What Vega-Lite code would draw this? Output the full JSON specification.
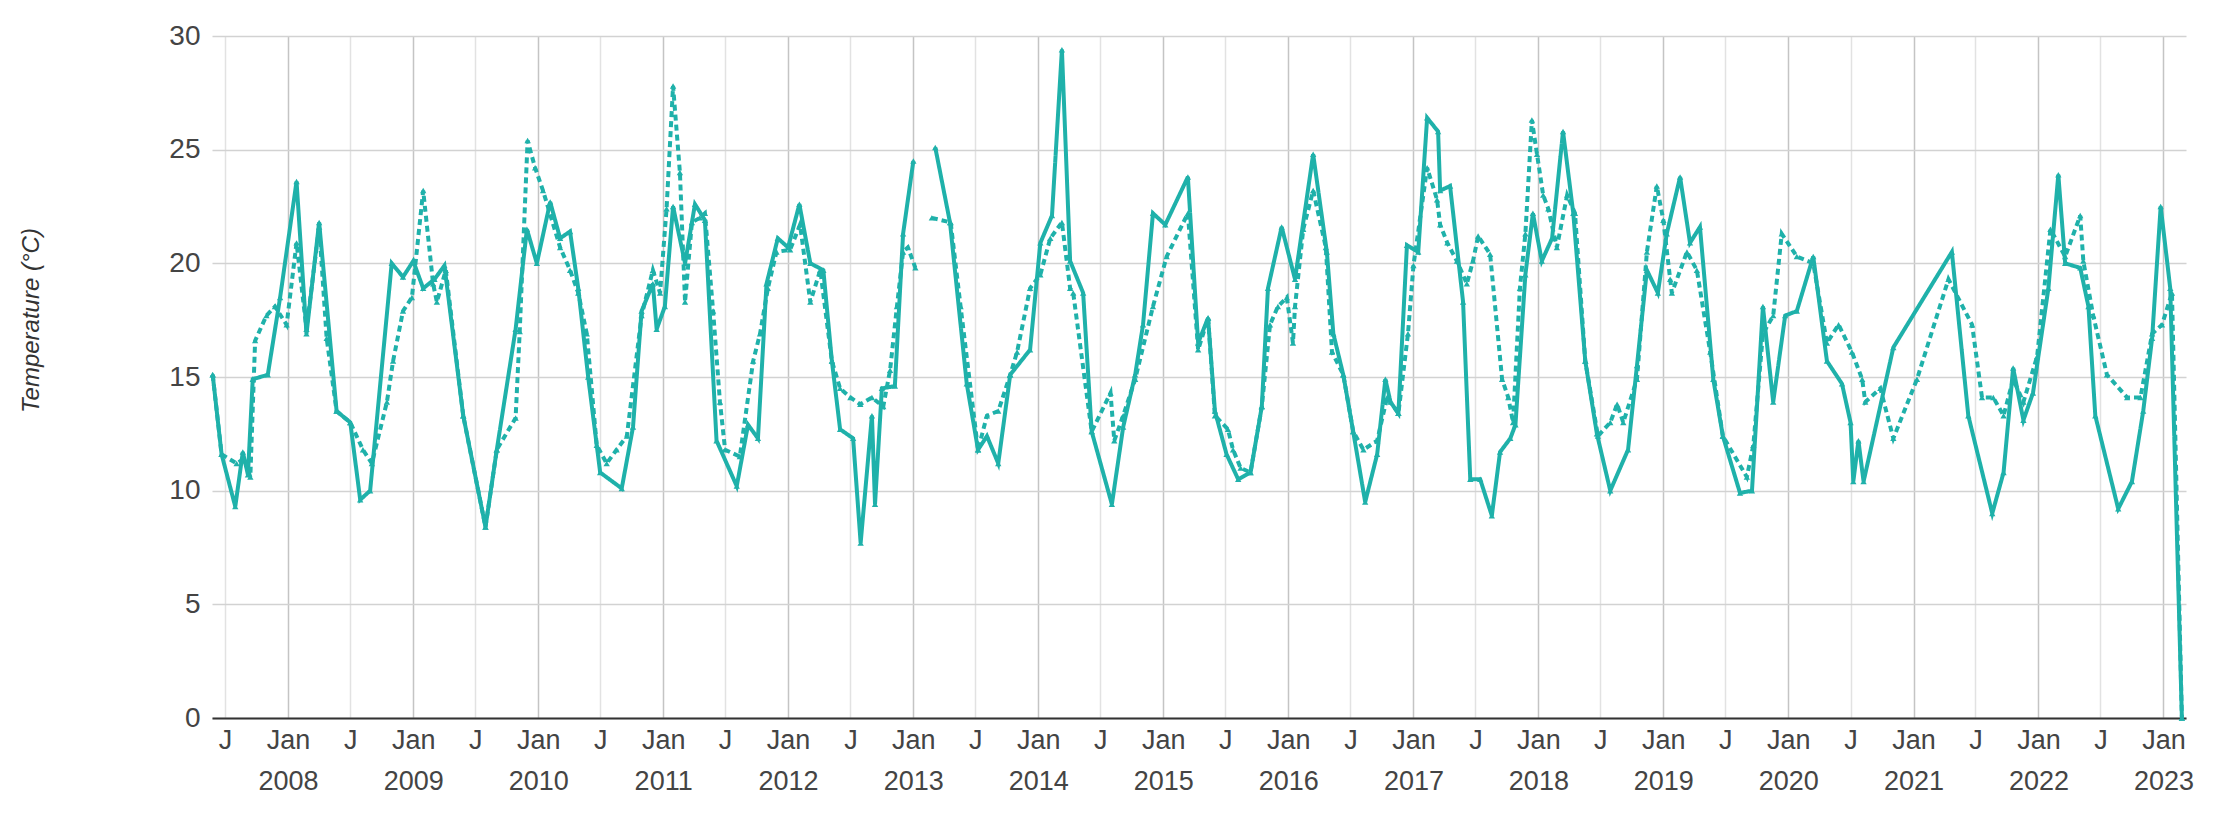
{
  "$schema": "https://vega.github.io/schema/vega-lite/v6.json",
  "autosize": "none",
  "width": 1974,
  "height": 682,
  "padding": {"left": 212, "top": 36, "right": 40, "bottom": 100},
  "background": "white",
  "config": {"view": {"stroke": null}},
  "data": {"values": [
    {"d":"2007-05-26","s":"a","t":15.1},{"d":"2007-06-21","s":"a","t":11.6},{"d":"2007-07-31","s":"a","t":9.3},{"d":"2007-08-22","s":"a","t":11.7},{"d":"2007-09-06","s":"a","t":10.7},{"d":"2007-09-20","s":"a","t":14.9},{"d":"2007-11-03","s":"a","t":15.1},{"d":"2007-12-09","s":"a","t":18.5},
    {"d":"2008-01-26","s":"a","t":23.6},{"d":"2008-02-24","s":"a","t":16.9},{"d":"2008-04-01","s":"a","t":21.8},{"d":"2008-05-22","s":"a","t":13.5},{"d":"2008-07-01","s":"a","t":13.0},{"d":"2008-07-30","s":"a","t":9.6},{"d":"2008-08-28","s":"a","t":10.0},{"d":"2008-10-30","s":"a","t":20.0},{"d":"2008-12-02","s":"a","t":19.4},
    {"d":"2009-01-01","s":"a","t":20.1},{"d":"2009-01-30","s":"a","t":18.9},{"d":"2009-03-04","s":"a","t":19.3},{"d":"2009-04-02","s":"a","t":19.9},{"d":"2009-05-27","s":"a","t":13.3},{"d":"2009-07-31","s":"a","t":8.4},{"d":"2009-09-02","s":"a","t":11.8},{"d":"2009-10-27","s":"a","t":17.1},{"d":"2009-11-29","s":"a","t":21.5},{"d":"2009-12-28","s":"a","t":20.0},
    {"d":"2010-02-05","s":"a","t":22.7},{"d":"2010-03-06","s":"a","t":21.1},{"d":"2010-04-04","s":"a","t":21.4},{"d":"2010-04-28","s":"a","t":18.9},{"d":"2010-05-27","s":"a","t":15.0},{"d":"2010-07-01","s":"a","t":10.8},{"d":"2010-09-02","s":"a","t":10.1},{"d":"2010-10-05","s":"a","t":12.8},{"d":"2010-10-30","s":"a","t":17.9},{"d":"2010-12-02","s":"a","t":19.1},{"d":"2010-12-13","s":"a","t":17.1},
    {"d":"2011-01-06","s":"a","t":18.1},{"d":"2011-01-30","s":"a","t":22.5},{"d":"2011-03-06","s":"a","t":20.0},{"d":"2011-04-04","s":"a","t":22.6},{"d":"2011-05-03","s":"a","t":21.9},{"d":"2011-06-06","s":"a","t":12.2},{"d":"2011-08-04","s":"a","t":10.2},{"d":"2011-09-06","s":"a","t":12.9},{"d":"2011-10-05","s":"a","t":12.3},{"d":"2011-10-30","s":"a","t":19.1},{"d":"2011-12-02","s":"a","t":21.1},
    {"d":"2012-01-01","s":"a","t":20.7},{"d":"2012-02-03","s":"a","t":22.6},{"d":"2012-03-06","s":"a","t":20.0},{"d":"2012-04-13","s":"a","t":19.7},{"d":"2012-05-08","s":"a","t":15.7},{"d":"2012-06-01","s":"a","t":12.7},{"d":"2012-07-09","s":"a","t":12.3},{"d":"2012-07-31","s":"a","t":7.7},{"d":"2012-09-02","s":"a","t":13.3},{"d":"2012-09-11","s":"a","t":9.4},{"d":"2012-10-01","s":"a","t":14.5},{"d":"2012-11-08","s":"a","t":14.6},{"d":"2012-12-02","s":"a","t":21.3},
    {"d":"2013-01-01","s":"a","t":24.5},{"d":"2013-02-01","s":"a","t":null},{"d":"2013-03-06","s":"a","t":25.1},{"d":"2013-04-18","s":"a","t":21.8},{"d":"2013-06-06","s":"a","t":14.7},{"d":"2013-07-09","s":"a","t":11.8},{"d":"2013-08-04","s":"a","t":12.4},{"d":"2013-09-06","s":"a","t":11.2},{"d":"2013-10-11","s":"a","t":15.1},{"d":"2013-12-08","s":"a","t":16.2},
    {"d":"2014-01-07","s":"a","t":20.9},{"d":"2014-02-10","s":"a","t":22.1},{"d":"2014-03-11","s":"a","t":29.4},{"d":"2014-04-04","s":"a","t":20.1},{"d":"2014-05-12","s":"a","t":18.7},{"d":"2014-06-06","s":"a","t":12.6},{"d":"2014-08-04","s":"a","t":9.4},{"d":"2014-09-06","s":"a","t":12.8},{"d":"2014-10-11","s":"a","t":15.1},{"d":"2014-11-03","s":"a","t":17.3},{"d":"2014-12-02","s":"a","t":22.2},
    {"d":"2015-01-07","s":"a","t":21.7},{"d":"2015-03-14","s":"a","t":23.8},{"d":"2015-04-13","s":"a","t":16.5},{"d":"2015-05-12","s":"a","t":17.6},{"d":"2015-06-01","s":"a","t":13.5},{"d":"2015-07-05","s":"a","t":11.6},{"d":"2015-08-08","s":"a","t":10.5},{"d":"2015-09-13","s":"a","t":10.8},{"d":"2015-10-16","s":"a","t":13.7},{"d":"2015-11-03","s":"a","t":18.9},{"d":"2015-12-13","s":"a","t":21.6},
    {"d":"2016-01-21","s":"a","t":19.3},{"d":"2016-03-14","s":"a","t":24.8},{"d":"2016-04-23","s":"a","t":20.5},{"d":"2016-05-12","s":"a","t":16.9},{"d":"2016-06-10","s":"a","t":15.1},{"d":"2016-07-09","s":"a","t":12.6},{"d":"2016-08-13","s":"a","t":9.5},{"d":"2016-09-17","s":"a","t":11.6},{"d":"2016-10-11","s":"a","t":14.9},{"d":"2016-10-26","s":"a","t":13.9},{"d":"2016-11-18","s":"a","t":13.4},{"d":"2016-12-13","s":"a","t":20.8},
    {"d":"2017-01-15","s":"a","t":20.5},{"d":"2017-02-10","s":"a","t":26.4},{"d":"2017-03-14","s":"a","t":25.8},{"d":"2017-03-20","s":"a","t":23.2},{"d":"2017-04-18","s":"a","t":23.4},{"d":"2017-05-26","s":"a","t":18.3},{"d":"2017-06-16","s":"a","t":10.5},{"d":"2017-07-15","s":"a","t":10.5},{"d":"2017-08-18","s":"a","t":8.9},{"d":"2017-09-11","s":"a","t":11.7},{"d":"2017-10-11","s":"a","t":12.3},{"d":"2017-10-26","s":"a","t":12.9},{"d":"2017-11-24","s":"a","t":19.5},{"d":"2017-12-16","s":"a","t":22.2},
    {"d":"2018-01-11","s":"a","t":20.1},{"d":"2018-02-10","s":"a","t":21.1},{"d":"2018-03-14","s":"a","t":25.8},{"d":"2018-04-13","s":"a","t":22.2},{"d":"2018-05-18","s":"a","t":15.7},{"d":"2018-06-21","s":"a","t":12.5},{"d":"2018-07-30","s":"a","t":10.0},{"d":"2018-09-20","s":"a","t":11.8},{"d":"2018-10-16","s":"a","t":15.5},{"d":"2018-11-14","s":"a","t":19.7},{"d":"2018-12-16","s":"a","t":18.7},
    {"d":"2019-01-11","s":"a","t":21.3},{"d":"2019-02-19","s":"a","t":23.8},{"d":"2019-03-20","s":"a","t":20.9},{"d":"2019-04-18","s":"a","t":21.6},{"d":"2019-05-27","s":"a","t":14.9},{"d":"2019-06-24","s":"a","t":12.4},{"d":"2019-08-13","s":"a","t":9.9},{"d":"2019-09-17","s":"a","t":10.0},{"d":"2019-10-19","s":"a","t":18.1},{"d":"2019-11-18","s":"a","t":13.9},{"d":"2019-12-23","s":"a","t":17.7},
    {"d":"2020-01-26","s":"a","t":17.9},{"d":"2020-03-14","s":"a","t":20.3},{"d":"2020-04-23","s":"a","t":15.7},{"d":"2020-06-06","s":"a","t":14.7},{"d":"2020-07-01","s":"a","t":13.0},{"d":"2020-07-09","s":"a","t":10.4},{"d":"2020-07-24","s":"a","t":12.2},{"d":"2020-08-08","s":"a","t":10.4},{"d":"2020-11-03","s":"a","t":16.3},
    {"d":"2021-04-23","s":"a","t":20.5},{"d":"2021-06-10","s":"a","t":13.3},{"d":"2021-08-19","s":"a","t":9.0},{"d":"2021-09-21","s":"a","t":10.8},{"d":"2021-10-19","s":"a","t":15.4},{"d":"2021-11-18","s":"a","t":13.1},{"d":"2021-12-16","s":"a","t":14.3},
    {"d":"2022-01-30","s":"a","t":18.9},{"d":"2022-02-28","s":"a","t":23.9},{"d":"2022-03-20","s":"a","t":20.0},{"d":"2022-05-03","s":"a","t":19.8},{"d":"2022-05-27","s":"a","t":18.1},{"d":"2022-06-16","s":"a","t":13.3},{"d":"2022-08-22","s":"a","t":9.2},{"d":"2022-10-01","s":"a","t":10.4},{"d":"2022-11-03","s":"a","t":13.5},{"d":"2022-11-29","s":"a","t":16.7},{"d":"2022-12-24","s":"a","t":22.5},
    {"d":"2023-01-21","s":"a","t":18.9},{"d":"2023-02-24","s":"a","t":0},

    {"d":"2007-05-26","s":"b","t":15.1},{"d":"2007-06-21","s":"b","t":11.6},{"d":"2007-08-04","s":"b","t":11.2},{"d":"2007-08-26","s":"b","t":11.4},{"d":"2007-09-13","s":"b","t":10.6},{"d":"2007-09-27","s":"b","t":16.6},{"d":"2007-10-30","s":"b","t":17.7},{"d":"2007-11-24","s":"b","t":18.1},{"d":"2007-12-28","s":"b","t":17.3},
    {"d":"2008-01-26","s":"b","t":20.9},{"d":"2008-02-24","s":"b","t":17.1},{"d":"2008-04-01","s":"b","t":21.6},{"d":"2008-04-23","s":"b","t":16.7},{"d":"2008-05-22","s":"b","t":13.5},{"d":"2008-07-01","s":"b","t":13.0},{"d":"2008-08-07","s":"b","t":11.8},{"d":"2008-09-02","s":"b","t":11.2},{"d":"2008-10-16","s":"b","t":13.9},{"d":"2008-11-03","s":"b","t":15.7},{"d":"2008-12-02","s":"b","t":17.9},{"d":"2008-12-28","s":"b","t":18.5},
    {"d":"2009-01-30","s":"b","t":23.2},{"d":"2009-02-28","s":"b","t":19.1},{"d":"2009-03-11","s":"b","t":18.3},{"d":"2009-04-06","s":"b","t":19.7},{"d":"2009-05-27","s":"b","t":13.3},{"d":"2009-07-31","s":"b","t":8.4},{"d":"2009-09-02","s":"b","t":11.8},{"d":"2009-10-27","s":"b","t":13.2},{"d":"2009-11-08","s":"b","t":17.0},{"d":"2009-12-01","s":"b","t":25.4},{"d":"2009-12-23","s":"b","t":24.2},
    {"d":"2010-01-15","s":"b","t":23.2},{"d":"2010-03-06","s":"b","t":20.7},{"d":"2010-04-04","s":"b","t":19.7},{"d":"2010-04-28","s":"b","t":18.7},{"d":"2010-05-23","s":"b","t":16.9},{"d":"2010-06-21","s":"b","t":12.0},{"d":"2010-07-20","s":"b","t":11.2},{"d":"2010-08-18","s":"b","t":11.8},{"d":"2010-09-17","s":"b","t":12.4},{"d":"2010-10-30","s":"b","t":17.7},{"d":"2010-12-02","s":"b","t":19.7},{"d":"2010-12-23","s":"b","t":18.7},
    {"d":"2011-01-11","s":"b","t":22.4},{"d":"2011-01-30","s":"b","t":27.8},{"d":"2011-02-19","s":"b","t":24.0},{"d":"2011-03-06","s":"b","t":18.3},{"d":"2011-03-26","s":"b","t":21.8},{"d":"2011-04-18","s":"b","t":22.0},{"d":"2011-05-03","s":"b","t":22.2},{"d":"2011-05-27","s":"b","t":17.9},{"d":"2011-06-16","s":"b","t":13.9},{"d":"2011-07-01","s":"b","t":11.8},{"d":"2011-08-13","s":"b","t":11.5},{"d":"2011-09-21","s":"b","t":15.7},{"d":"2011-10-11","s":"b","t":16.9},{"d":"2011-11-03","s":"b","t":18.9},{"d":"2011-11-28","s":"b","t":20.5},
    {"d":"2012-01-07","s":"b","t":20.6},{"d":"2012-02-05","s":"b","t":21.7},{"d":"2012-03-06","s":"b","t":18.3},{"d":"2012-04-04","s":"b","t":19.7},{"d":"2012-05-08","s":"b","t":15.7},{"d":"2012-06-01","s":"b","t":14.5},{"d":"2012-07-01","s":"b","t":14.1},{"d":"2012-07-30","s":"b","t":13.8},{"d":"2012-09-02","s":"b","t":14.1},{"d":"2012-10-05","s":"b","t":13.7},{"d":"2012-10-25","s":"b","t":15.3},{"d":"2012-11-14","s":"b","t":18.1},{"d":"2012-12-02","s":"b","t":20.5},{"d":"2012-12-16","s":"b","t":20.7},
    {"d":"2013-01-07","s":"b","t":19.8},{"d":"2013-02-01","s":"b","t":null},{"d":"2013-02-24","s":"b","t":22.0},{"d":"2013-04-20","s":"b","t":21.8},{"d":"2013-05-19","s":"b","t":18.1},{"d":"2013-07-09","s":"b","t":11.8},{"d":"2013-08-04","s":"b","t":13.3},{"d":"2013-09-06","s":"b","t":13.5},{"d":"2013-10-11","s":"b","t":15.1},{"d":"2013-10-31","s":"b","t":16.1},{"d":"2013-12-08","s":"b","t":18.9},
    {"d":"2014-01-07","s":"b","t":19.5},{"d":"2014-02-05","s":"b","t":21.1},{"d":"2014-03-11","s":"b","t":21.8},{"d":"2014-04-04","s":"b","t":18.9},{"d":"2014-04-13","s":"b","t":18.7},{"d":"2014-06-06","s":"b","t":12.6},{"d":"2014-07-31","s":"b","t":14.3},{"d":"2014-08-11","s":"b","t":12.2},{"d":"2014-09-06","s":"b","t":13.3},{"d":"2014-10-11","s":"b","t":14.9},{"d":"2014-12-02","s":"b","t":18.1},
    {"d":"2015-01-11","s":"b","t":20.3},{"d":"2015-03-14","s":"b","t":22.2},{"d":"2015-04-13","s":"b","t":16.2},{"d":"2015-05-12","s":"b","t":17.6},{"d":"2015-06-01","s":"b","t":13.3},{"d":"2015-07-09","s":"b","t":12.7},{"d":"2015-07-24","s":"b","t":11.8},{"d":"2015-08-15","s":"b","t":11.0},{"d":"2015-09-13","s":"b","t":10.8},{"d":"2015-10-16","s":"b","t":13.7},{"d":"2015-11-09","s":"b","t":17.3},{"d":"2015-12-02","s":"b","t":18.1},{"d":"2015-12-28","s":"b","t":18.5},
    {"d":"2016-01-15","s":"b","t":16.5},{"d":"2016-01-21","s":"b","t":18.1},{"d":"2016-02-14","s":"b","t":21.5},{"d":"2016-03-14","s":"b","t":23.2},{"d":"2016-04-20","s":"b","t":20.7},{"d":"2016-05-08","s":"b","t":16.1},{"d":"2016-06-10","s":"b","t":15.1},{"d":"2016-07-09","s":"b","t":12.6},{"d":"2016-08-08","s":"b","t":11.8},{"d":"2016-09-17","s":"b","t":12.2},{"d":"2016-10-16","s":"b","t":14.1},{"d":"2016-11-18","s":"b","t":13.4},{"d":"2016-12-16","s":"b","t":16.9},
    {"d":"2017-01-01","s":"b","t":19.9},{"d":"2017-02-10","s":"b","t":24.2},{"d":"2017-03-11","s":"b","t":22.8},{"d":"2017-03-20","s":"b","t":21.7},{"d":"2017-04-10","s":"b","t":20.9},{"d":"2017-05-08","s":"b","t":20.1},{"d":"2017-06-06","s":"b","t":19.1},{"d":"2017-06-24","s":"b","t":20.1},{"d":"2017-07-09","s":"b","t":21.2},{"d":"2017-08-13","s":"b","t":20.4},{"d":"2017-09-17","s":"b","t":14.9},{"d":"2017-10-05","s":"b","t":14.1},{"d":"2017-10-19","s":"b","t":13.0},{"d":"2017-11-08","s":"b","t":18.9},{"d":"2017-11-24","s":"b","t":21.3},{"d":"2017-12-13","s":"b","t":26.3},{"d":"2017-12-28","s":"b","t":24.8},
    {"d":"2018-01-15","s":"b","t":23.0},{"d":"2018-01-30","s":"b","t":22.4},{"d":"2018-02-24","s":"b","t":20.7},{"d":"2018-03-26","s":"b","t":23.0},{"d":"2018-04-18","s":"b","t":22.2},{"d":"2018-05-18","s":"b","t":15.7},{"d":"2018-06-24","s":"b","t":12.4},{"d":"2018-07-30","s":"b","t":13.0},{"d":"2018-08-19","s":"b","t":13.8},{"d":"2018-09-06","s":"b","t":13.0},{"d":"2018-10-16","s":"b","t":14.9},{"d":"2018-11-14","s":"b","t":20.5},{"d":"2018-12-13","s":"b","t":23.4},
    {"d":"2019-01-01","s":"b","t":21.9},{"d":"2019-01-21","s":"b","t":19.3},{"d":"2019-01-26","s":"b","t":18.7},{"d":"2019-03-11","s":"b","t":20.5},{"d":"2019-04-09","s":"b","t":19.7},{"d":"2019-05-18","s":"b","t":16.1},{"d":"2019-06-24","s":"b","t":12.4},{"d":"2019-09-02","s":"b","t":10.6},{"d":"2019-09-21","s":"b","t":12.0},{"d":"2019-10-19","s":"b","t":16.9},{"d":"2019-11-18","s":"b","t":17.7},{"d":"2019-12-13","s":"b","t":21.3},
    {"d":"2020-01-26","s":"b","t":20.3},{"d":"2020-03-14","s":"b","t":20.0},{"d":"2020-04-23","s":"b","t":16.5},{"d":"2020-05-27","s":"b","t":17.3},{"d":"2020-07-05","s":"b","t":16.1},{"d":"2020-08-04","s":"b","t":14.9},{"d":"2020-08-13","s":"b","t":13.9},{"d":"2020-09-26","s":"b","t":14.5},{"d":"2020-11-03","s":"b","t":12.3},
    {"d":"2021-01-11","s":"b","t":14.9},{"d":"2021-04-13","s":"b","t":19.3},{"d":"2021-06-21","s":"b","t":17.3},{"d":"2021-07-20","s":"b","t":14.1},{"d":"2021-08-22","s":"b","t":14.1},{"d":"2021-09-21","s":"b","t":13.3},{"d":"2021-10-19","s":"b","t":14.9},{"d":"2021-11-18","s":"b","t":13.9},{"d":"2021-12-28","s":"b","t":15.9},
    {"d":"2022-02-05","s":"b","t":21.5},{"d":"2022-03-20","s":"b","t":20.3},{"d":"2022-05-03","s":"b","t":22.1},{"d":"2022-05-12","s":"b","t":20.1},{"d":"2022-06-10","s":"b","t":17.7},{"d":"2022-07-20","s":"b","t":15.1},{"d":"2022-09-17","s":"b","t":14.1},{"d":"2022-10-26","s":"b","t":14.1},{"d":"2022-11-29","s":"b","t":16.9},{"d":"2022-12-28","s":"b","t":17.3},
    {"d":"2023-01-26","s":"b","t":18.7},{"d":"2023-02-24","s":"b","t":0}
  ]},
  "mark": {
    "type": "line",
    "color": "#1fb1aa",
    "strokeWidth": 4,
    "point": {"filled": true, "shape": "triangle-up", "size": 40, "color": "#1fb1aa"}
  },
  "encoding": {
    "x": {
      "field": "d", "type": "temporal",
      "scale": {"type": "utc", "domain": [{"year": 2007, "month": 5, "date": 24, "utc": true}, {"year": 2023, "month": 3, "date": 8, "utc": true}]},
      "axis": {
        "title": null,
        "values": [
          {"year":2007,"month":7,"date":1,"utc":true},{"year":2008,"month":1,"date":1,"utc":true},{"year":2008,"month":7,"date":1,"utc":true},{"year":2009,"month":1,"date":1,"utc":true},{"year":2009,"month":7,"date":1,"utc":true},{"year":2010,"month":1,"date":1,"utc":true},{"year":2010,"month":7,"date":1,"utc":true},{"year":2011,"month":1,"date":1,"utc":true},{"year":2011,"month":7,"date":1,"utc":true},{"year":2012,"month":1,"date":1,"utc":true},{"year":2012,"month":7,"date":1,"utc":true},{"year":2013,"month":1,"date":1,"utc":true},{"year":2013,"month":7,"date":1,"utc":true},{"year":2014,"month":1,"date":1,"utc":true},{"year":2014,"month":7,"date":1,"utc":true},{"year":2015,"month":1,"date":1,"utc":true},{"year":2015,"month":7,"date":1,"utc":true},{"year":2016,"month":1,"date":1,"utc":true},{"year":2016,"month":7,"date":1,"utc":true},{"year":2017,"month":1,"date":1,"utc":true},{"year":2017,"month":7,"date":1,"utc":true},{"year":2018,"month":1,"date":1,"utc":true},{"year":2018,"month":7,"date":1,"utc":true},{"year":2019,"month":1,"date":1,"utc":true},{"year":2019,"month":7,"date":1,"utc":true},{"year":2020,"month":1,"date":1,"utc":true},{"year":2020,"month":7,"date":1,"utc":true},{"year":2021,"month":1,"date":1,"utc":true},{"year":2021,"month":7,"date":1,"utc":true},{"year":2022,"month":1,"date":1,"utc":true},{"year":2022,"month":7,"date":1,"utc":true},{"year":2023,"month":1,"date":1,"utc":true}
        ],
        "labelExpr": "utcmonth(datum.value) == 0 ? ['Jan', utcFormat(datum.value, '%Y')] : 'J'",
        "labelFont": "Liberation Sans",
        "labelFontSize": 27,
        "labelColor": "#444444",
        "labelLineHeight": 41,
        "labelPadding": 9,
        "labelAlign": "center",
        "labelBaseline": "top",
        "labelOverlap": false,
        "labelFlush": false,
        "ticks": false,
        "domainColor": "#333333",
        "domainWidth": 2,
        "grid": true,
        "gridColor": {"condition": {"test": "utcmonth(datum.value) == 0", "value": "#c4c4c4"}, "value": "#e2e2e2"},
        "gridWidth": 1.5
      }
    },
    "y": {
      "field": "t", "type": "quantitative",
      "scale": {"domain": [0, 30], "nice": false, "zero": true},
      "axis": {
        "values": [0, 5, 10, 15, 20, 25, 30],
        "title": "Temperature (°C)",
        "titleFont": "Liberation Sans",
        "titleFontStyle": "italic",
        "titleFontWeight": "normal",
        "titleFontSize": 24,
        "titleColor": "#333333",
        "titleX": -181,
        "titleY": 284,
        "titleBaseline": "middle",
        "titleAlign": "center",
        "labelFont": "Liberation Sans",
        "labelFontSize": 28,
        "labelColor": "#444444",
        "labelPadding": 12,
        "ticks": false,
        "domain": false,
        "gridColor": "#d2d2d2",
        "gridWidth": 1.5
      }
    },
    "strokeDash": {
      "field": "s", "type": "nominal",
      "scale": {"domain": ["a", "b"], "range": [[1, 0], [6, 4]]},
      "legend": null
    }
  }
}
